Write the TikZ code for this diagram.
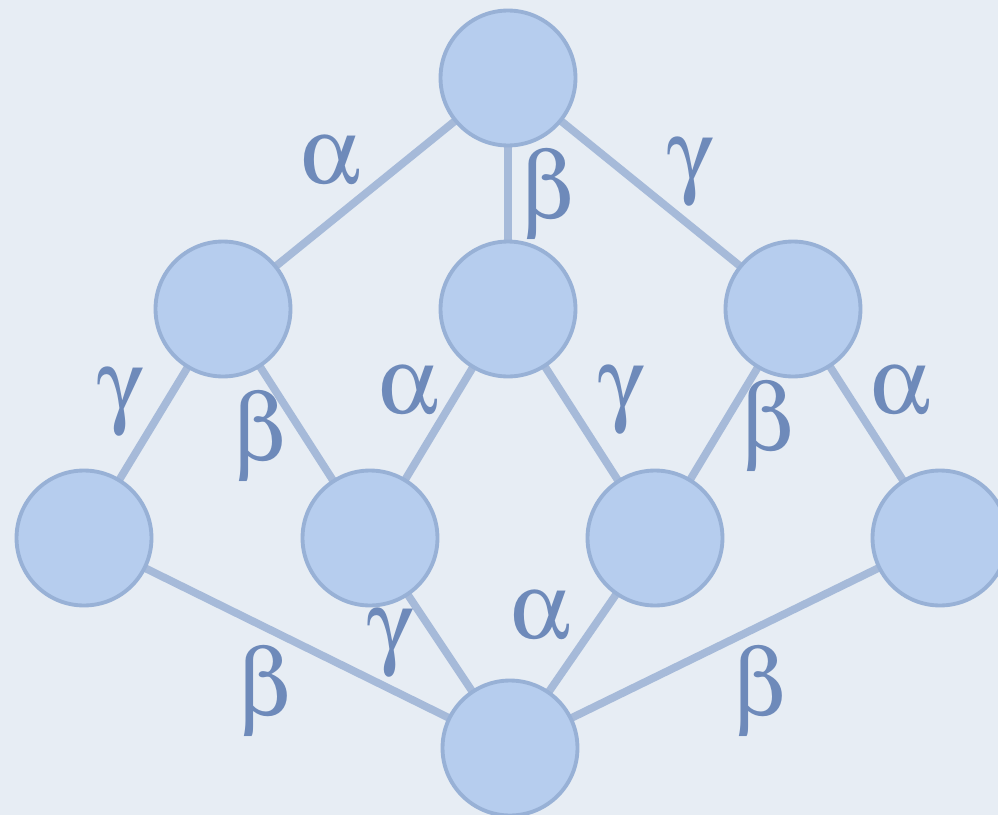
\documentclass[tikz,border=0pt]{standalone}
\usepackage[Symbol]{upgreek}
\usepackage{xcolor}
\definecolor{paper}{HTML}{E7EDF4}
\definecolor{ballfill}{HTML}{B6CDEE}
\definecolor{balldraw}{HTML}{98B1D6}
\definecolor{edgecol}{HTML}{A6BAD9}
\definecolor{lblcol}{HTML}{6E8ABA}

\begin{document}
\begin{tikzpicture}[
  x=0.02cm, y=-0.02cm,
  ball/.style={circle,draw=balldraw,fill=ballfill,line width=2.2pt,minimum size=2.7cm,inner sep=0pt},
  lbl/.style={text=lblcol,font=\fontsize{54}{60}\selectfont,inner sep=0pt},
  link/.style={draw=edgecol,line width=4.4pt}
]
  \fill[paper] (0,0) rectangle (998,815);
  \useasboundingbox (0,0) rectangle (998,815);
  % edges first, balls on top
  \coordinate (ptop) at (508,78);
  \coordinate (pl) at (223,309);
  \coordinate (pm) at (508,309);
  \coordinate (pr) at (793,309);
  \coordinate (p1) at (84,538);
  \coordinate (p2) at (370,538);
  \coordinate (p3) at (655,538);
  \coordinate (p4) at (940,538);
  \coordinate (pbot) at (510,748);
  \path[link] (ptop) -- (pl);
  \path[link] (ptop) -- (pm);
  \path[link] (ptop) -- (pr);
  \path[link] (pl) -- (p1);
  \path[link] (pl) -- (p2);
  \path[link] (pm) -- (p2);
  \path[link] (pm) -- (p3);
  \path[link] (pr) -- (p3);
  \path[link] (pr) -- (p4);
  \path[link] (p1) -- (pbot);
  \path[link] (p2) -- (pbot);
  \path[link] (p3) -- (pbot);
  \path[link] (p4) -- (pbot);
  \node[ball] (top) at (ptop) {};
  \node[ball] (left) at (pl) {};
  \node[ball] (mid) at (pm) {};
  \node[ball] (right) at (pr) {};
  \node[ball] (b1) at (p1) {};
  \node[ball] (b2) at (p2) {};
  \node[ball] (b3) at (p3) {};
  \node[ball] (b4) at (p4) {};
  \node[ball] (bot) at (pbot) {};
  % labels
  \node[lbl] (ltl) at (330,160) {$\upalpha$};
  \node[lbl] (ltm) at (548,195) {$\upbeta$};
  \node[lbl] (ltr) at (690,172) {$\upgamma$};
  \node[lbl] (ll1) at (120,402) {$\upgamma$};
  \node[lbl] (ll2) at (260,437) {$\upbeta$};
  \node[lbl] (lm2) at (408,390) {$\upalpha$};
  \node[lbl] (lm3) at (621,400) {$\upgamma$};
  \node[lbl] (lr3) at (768,427) {$\upbeta$};
  \node[lbl] (lr4) at (900,390) {$\upalpha$};
  \node[lbl] (l1b) at (265,692) {$\upbeta$};
  \node[lbl] (l2b) at (390,643) {$\upgamma$};
  \node[lbl] (l3b) at (540,615) {$\upalpha$};
  \node[lbl] (l4b) at (760,692) {$\upbeta$};
\end{tikzpicture}
\end{document}
